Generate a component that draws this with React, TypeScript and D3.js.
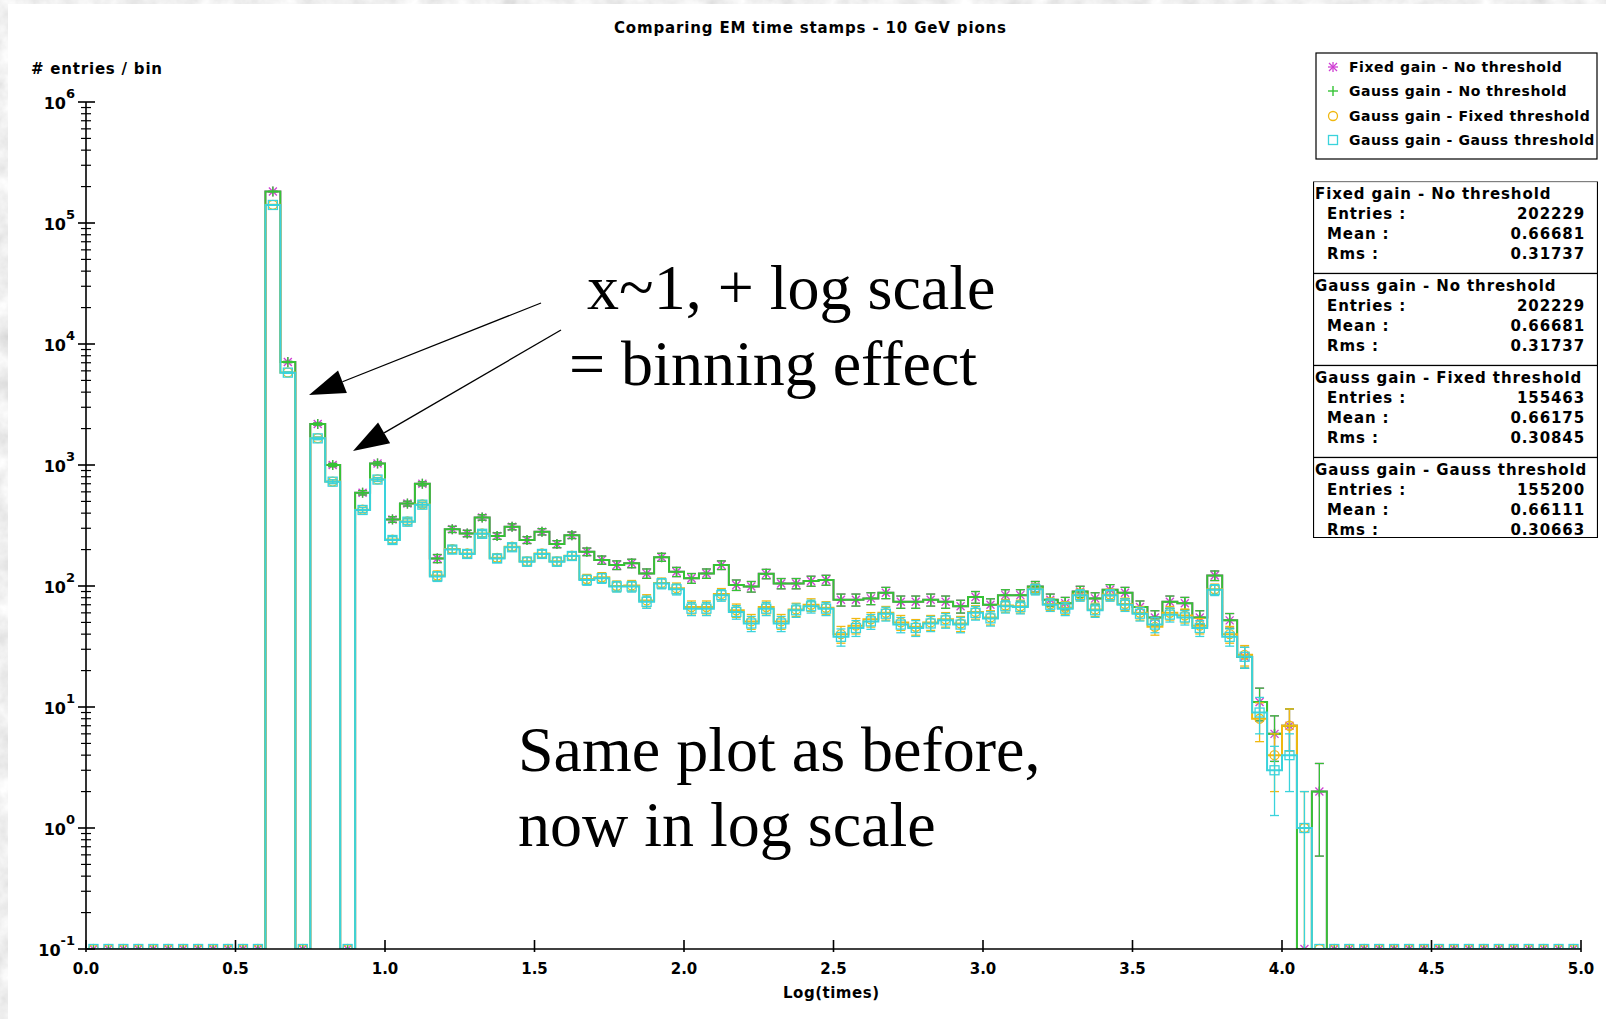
import React, { useMemo } from "react";
import * as d3 from "d3";

const WIDTH = 1606;
const HEIGHT = 1019;
const PLOT = { left: 86, right: 1581, top: 102, bottom: 949 };

// histogram binning: 100 bins of 0.05 on [0, 5]
const X_DOMAIN = [0, 5];
const Y_DOMAIN = [0.1, 1e6];
const BIN_WIDTH = 0.05;
const N_BINS = 100;
const EMPTY_BEFORE = 12; // bins 0.00 - 0.60 are empty
const EMPTY_AFTER = 17; // bins 4.15 - 5.00 are empty

// filled bins, 0.60 -> 4.15
const fixedGainNoThreshold = [
  182000, 7100, 0, 2180, 1000, 0, 590, 1030, 355, 480,
  700, 169, 294, 272, 369, 259, 309, 240, 281, 222,
  263, 192, 164, 149, 154, 127, 173, 131, 116, 127,
  149, 102, 99, 126, 105, 105, 110, 112, 77, 77,
  79, 88, 74, 74, 77, 74, 68, 81, 70, 84,
  84, 99, 77, 72, 90, 79, 93, 88, 67, 55,
  74, 72, 55, 122, 52, 26, 11, 6, 7, 0,
  2,
];
const gaussGainNoThreshold = [
  182000, 7100, 0, 2180, 1000, 0, 590, 1030, 355, 480,
  700, 169, 294, 272, 369, 259, 309, 240, 281, 222,
  263, 192, 164, 149, 154, 127, 173, 131, 116, 127,
  149, 102, 99, 126, 105, 105, 110, 112, 77, 77,
  79, 88, 74, 74, 77, 74, 68, 81, 70, 84,
  84, 99, 77, 72, 90, 79, 93, 88, 67, 55,
  74, 72, 55, 122, 52, 26, 11, 6, 7, 0,
  2,
];
const gaussGainFixedThreshold = [
  141200, 5820, 0, 1665, 730, 0, 427, 760, 242, 342,
  472, 122, 202, 186, 272, 171, 211, 160, 186, 160,
  178, 114, 118, 100, 101, 76, 106, 96, 67, 67,
  86, 63, 51, 67, 51, 64, 70, 66, 40, 47,
  53, 60, 50, 46, 50, 53, 49, 61, 55, 69,
  68, 95, 71, 66, 85, 64, 85, 71, 60, 46,
  60, 57, 47, 94, 40, 27, 8, 4, 7, 1,
  0,
];
const gaussGainGaussThreshold = [
  141000, 5800, 0, 1660, 728, 0, 425, 758, 240, 340,
  470, 120, 200, 184, 270, 169, 209, 159, 184, 159,
  177, 112, 116, 99, 99, 74, 105, 94, 65, 65,
  84, 61, 49, 65, 49, 63, 68, 65, 38, 45,
  51, 59, 48, 45, 49, 52, 48, 60, 54, 68,
  67, 94, 70, 65, 84, 63, 84, 70, 59, 48,
  58, 55, 45, 93, 38, 26, 9, 3, 4, 1,
  0,
];

const seriesNames = [
  "Fixed gain - No threshold",
  "Gauss gain - No threshold",
  "Gauss gain - Fixed threshold",
  "Gauss gain - Gauss threshold",
];
const statEntries = ["202229", "202229", "155463", "155200"];
const statMean = ["0.66681", "0.66681", "0.66175", "0.66111"];
const statRms = ["0.31737", "0.31737", "0.30845", "0.30663"];

const SERIES = [
  { values: fixedGainNoThreshold, color: "#cf3fd3", marker: "star" },
  { values: gaussGainNoThreshold, color: "#35c335", marker: "plus" },
  { values: gaussGainFixedThreshold, color: "#f0b810", marker: "circle" },
  { values: gaussGainGaussThreshold, color: "#3ad3dc", marker: "square" },
];

const SANS = "'DejaVu Sans', Verdana, sans-serif";
const SERIF = "'Liberation Serif', 'Times New Roman', serif";

const pad = (filled: number[]) => [
  ...new Array(EMPTY_BEFORE).fill(0),
  ...filled,
  ...new Array(EMPTY_AFTER).fill(0),
];

const Marker = ({ kind, x, y, color }: { kind: string; x: number; y: number; color: string }) => {
  const s = 5;
  const d = 4;
  if (kind === "star") {
    return (
      <g stroke={color} strokeWidth={1.3}>
        <line x1={x - s} x2={x + s} y1={y} y2={y} />
        <line x1={x} x2={x} y1={y - s} y2={y + s} />
        <line x1={x - d} x2={x + d} y1={y - d} y2={y + d} />
        <line x1={x - d} x2={x + d} y1={y + d} y2={y - d} />
      </g>
    );
  }
  if (kind === "plus") {
    return (
      <g stroke={color} strokeWidth={1.4}>
        <line x1={x - s} x2={x + s} y1={y} y2={y} />
        <line x1={x} x2={x} y1={y - s} y2={y + s} />
      </g>
    );
  }
  if (kind === "circle") {
    return <circle cx={x} cy={y} r={4.5} fill="none" stroke={color} strokeWidth={1.3} />;
  }
  return <rect x={x - 4.5} y={y - 4.5} width={9} height={9} fill="none" stroke={color} strokeWidth={1.3} />;
};

const Arrow = ({ from, to }: { from: number[]; to: number[] }) => {
  const dx = to[0] - from[0];
  const dy = to[1] - from[1];
  const len = Math.hypot(dx, dy);
  const ux = dx / len;
  const uy = dy / len;
  const headLen = 36;
  const headW = 12;
  const bx = to[0] - ux * headLen;
  const by = to[1] - uy * headLen;
  const pts = [
    [to[0], to[1]],
    [bx - uy * headW, by + ux * headW],
    [bx + uy * headW, by - ux * headW],
  ];
  return (
    <g>
      <line x1={from[0]} y1={from[1]} x2={bx} y2={by} stroke="#000" strokeWidth={1.3} />
      <polygon points={pts.map((p) => p.join(",")).join(" ")} fill="#000" />
    </g>
  );
};

const App = () => {
  const xScale = useMemo(
    () => d3.scaleLinear().domain(X_DOMAIN).range([PLOT.left, PLOT.right]),
    []
  );
  const yScale = useMemo(
    () => d3.scaleLog().domain(Y_DOMAIN).range([PLOT.bottom, PLOT.top]),
    []
  );

  const binLow = useMemo(() => d3.range(N_BINS).map((i) => i * BIN_WIDTH), []);

  const yOf = (v: number) => yScale(Math.max(v, Y_DOMAIN[0]));

  const series = useMemo(
    () =>
      SERIES.map((s) => {
        const counts = pad(s.values);
        const pts: [number, number][] = counts.map((v, i) => [binLow[i], v]);
        pts.push([X_DOMAIN[1], counts[counts.length - 1]]);
        const path = d3
          .line<[number, number]>()
          .x((d) => xScale(d[0]))
          .y((d) => yOf(d[1]))
          .curve(d3.curveStepAfter)(pts);
        return { ...s, counts, path };
      }),
    [binLow, xScale, yScale]
  );

  const xTicks = xScale.ticks(10);
  const yMajor = d3.range(-1, 7).map((e) => Math.pow(10, e));
  const yMinor = yScale.ticks().filter((t) => !yMajor.some((m) => Math.abs(m - t) / m < 1e-6));

  const legendY = [67, 91, 116, 140];
  const statTop = 181.5;
  const statH = 92;

  return (
    <svg
      width={WIDTH}
      height={HEIGHT}
      style={{ position: "absolute", left: 0, top: 0, display: "block" }}
    >
      <defs>
        <filter id="marble" x="0" y="0" width="100%" height="100%">
          <feTurbulence type="fractalNoise" baseFrequency="0.04" numOctaves={4} seed={7} />
          <feColorMatrix
            type="matrix"
            values="0.45 0 0 0 0.64  0.45 0 0 0 0.64  0.45 0 0 0 0.64  0 0 0 0 1"
          />
        </filter>
        <clipPath id="plotClip">
          <rect x={PLOT.left} y={PLOT.top - 20} width={PLOT.right - PLOT.left} height={PLOT.bottom - PLOT.top + 20} />
        </clipPath>
        <clipPath id="statClip">
          <rect x={1313} y={statTop} width={285} height={statH * 4 - 12} />
        </clipPath>
      </defs>

      {/* slide background */}
      <rect x={0} y={0} width={WIDTH} height={HEIGHT} filter="url(#marble)" />
      <rect x={8} y={4} width={WIDTH - 8} height={HEIGHT - 4} fill="#fff" />

      {/* title + axis titles */}
      <text x={810} y={33} textAnchor="middle" fontFamily={SANS} fontWeight="bold" fontSize={15} textLength={392}>
        Comparing EM time stamps - 10 GeV pions
      </text>
      <text x={31} y={74} fontFamily={SANS} fontWeight="bold" fontSize={15} textLength={131}>
        # entries / bin
      </text>
      <text x={831} y={998} textAnchor="middle" fontFamily={SANS} fontWeight="bold" fontSize={15} textLength={96}>
        Log(times)
      </text>

      {/* histograms */}
      <g clipPath="url(#plotClip)">
        {series.map((s, si) => (
          <g key={si}>
            <path d={s.path || ""} fill="none" stroke={s.color} strokeWidth={2} />
            {s.counts.map((v, i) => {
              const cx = xScale(binLow[i] + BIN_WIDTH / 2);
              const cy = yOf(v);
              if (v <= 0) return <Marker key={i} kind={s.marker} x={cx} y={cy} color={s.color} />;
              const err = Math.sqrt(v);
              const hi = yOf(v + err);
              const loOk = v - err > 0;
              const lo = loOk ? yOf(v - err) : PLOT.bottom + 5;
              return (
                <g key={i}>
                  <g stroke={s.color} strokeWidth={1.3}>
                    <line x1={cx} x2={cx} y1={hi} y2={lo} />
                    <line x1={cx - 4.5} x2={cx + 4.5} y1={hi} y2={hi} />
                    {loOk && <line x1={cx - 4.5} x2={cx + 4.5} y1={lo} y2={lo} />}
                  </g>
                  <Marker kind={s.marker} x={cx} y={cy} color={s.color} />
                </g>
              );
            })}
          </g>
        ))}
      </g>

      {/* axes */}
      <g stroke="#000" strokeWidth={1.6}>
        <line x1={PLOT.left} x2={PLOT.left} y1={PLOT.top} y2={PLOT.bottom} />
        <line x1={PLOT.left} x2={PLOT.right} y1={PLOT.bottom} y2={PLOT.bottom} />
        {yMajor.map((t) => (
          <line key={t} x1={PLOT.left - 8} x2={PLOT.left + 9} y1={yScale(t)} y2={yScale(t)} />
        ))}
        {yMinor.map((t) => (
          <line key={t} x1={PLOT.left - 5} x2={PLOT.left + 5} y1={yScale(t)} y2={yScale(t)} strokeWidth={1.2} />
        ))}
        {xTicks.map((t) => (
          <line key={t} x1={xScale(t)} x2={xScale(t)} y1={PLOT.bottom - 9} y2={PLOT.bottom + 3} />
        ))}
      </g>
      <g fontFamily={SANS} fontWeight="bold" fill="#000">
        {xTicks.map((t) => (
          <text key={t} x={xScale(t)} y={974} textAnchor="middle" fontSize={15}>
            {d3.format(".1f")(t)}
          </text>
        ))}
        {yMajor.map((t) => (
          <text key={t} x={75} y={yScale(t) + 7} textAnchor="end" fontSize={16}>
            10
            <tspan dy={-11} fontSize={13}>
              {Math.round(Math.log10(t))}
            </tspan>
          </text>
        ))}
      </g>

      {/* legend */}
      <rect x={1316} y={53} width={281} height={106} fill="#fff" stroke="#000" strokeWidth={1.2} />
      {SERIES.map((s, i) => (
        <g key={i}>
          <Marker kind={s.marker} x={1333} y={legendY[i]} color={s.color} />
          <text x={1349} y={legendY[i] + 5} fontFamily={SANS} fontWeight="bold" fontSize={14} letterSpacing={0.55}>
            {seriesNames[i]}
          </text>
        </g>
      ))}

      {/* statistics box */}
      <g clipPath="url(#statClip)" fontFamily={SANS} fontWeight="bold" fontSize={15} letterSpacing={0.9}>
        {seriesNames.map((name, i) => {
          const top = statTop + i * statH;
          return (
            <g key={i}>
              <rect x={1313.5} y={top} width={284} height={statH} fill="#fff" stroke="#000" strokeWidth={1.2} />
              <text x={1315} y={top + 17}>{name}</text>
              <text x={1327} y={top + 37}>Entries :</text>
              <text x={1327} y={top + 57}>Mean :</text>
              <text x={1327} y={top + 77}>Rms :</text>
              <text x={1585} y={top + 37} textAnchor="end">{statEntries[i]}</text>
              <text x={1585} y={top + 57} textAnchor="end">{statMean[i]}</text>
              <text x={1585} y={top + 77} textAnchor="end">{statRms[i]}</text>
            </g>
          );
        })}
      </g>
      <line x1={1313} x2={1598} y1={statTop + statH * 4 - 12} y2={statTop + statH * 4 - 12} stroke="#000" strokeWidth={1.2} />

      {/* annotations */}
      <g fontFamily={SERIF} fontSize={64} fill="#000">
        <text x={587} y={309}>x~1, + log scale</text>
        <text x={569} y={385}>= binning effect</text>
        <text x={518} y={771}>Same plot as before,</text>
        <text x={518} y={846}>now in log scale</text>
      </g>
      <Arrow from={[541, 303]} to={[309, 395]} />
      <Arrow from={[561, 330]} to={[353, 451]} />
    </svg>
  );
};

export default App;
